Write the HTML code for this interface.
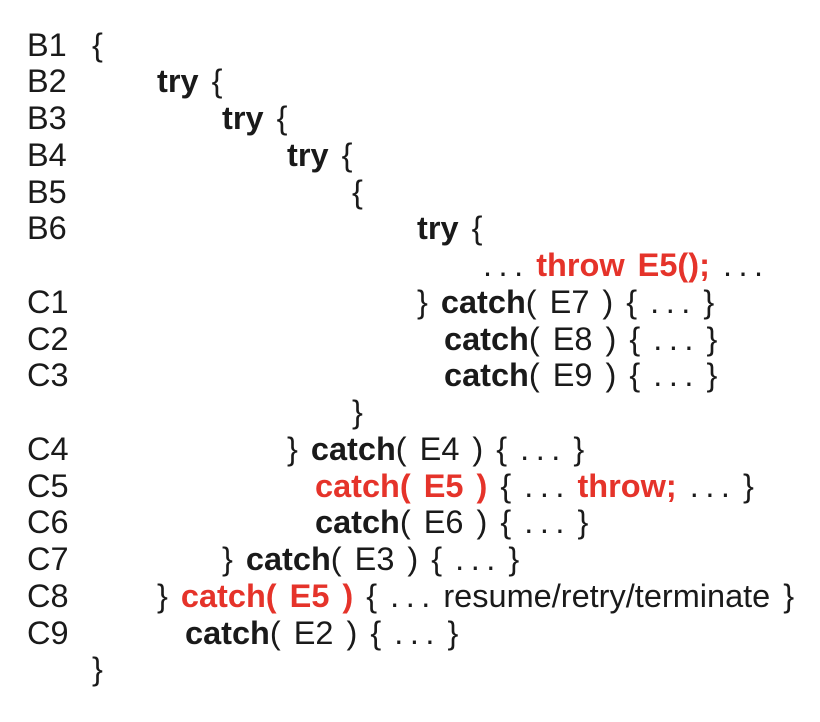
<!DOCTYPE html>
<html><head><meta charset="utf-8"><style>
html,body{margin:0;padding:0;background:#fff;}
svg{display:block}
text{font-family:"Liberation Sans",Arial,sans-serif;font-size:32.5px;fill:#1a1a1a;white-space:pre;word-spacing:4px}
.b{font-weight:bold}
.r{fill:#e5332a;font-weight:bold}
.d{word-spacing:-2.5px}
</style></head><body>
<svg width="820" height="722" viewBox="0 0 820 722" xmlns="http://www.w3.org/2000/svg">
<text x="27" y="56">B1</text><text x="92" y="56">{</text>
<text x="27" y="92">B2</text><text x="157" y="92"><tspan class="b">try</tspan> {</text>
<text x="27" y="129">B3</text><text x="222" y="129"><tspan class="b">try</tspan> {</text>
<text x="27" y="166">B4</text><text x="287" y="166"><tspan class="b">try</tspan> {</text>
<text x="27" y="203">B5</text><text x="352" y="203">{</text>
<text x="27" y="239">B6</text><text x="417" y="239"><tspan class="b">try</tspan> {</text>
<text x="483" y="276"><tspan class="d">. . .</tspan> <tspan class="r">throw E5();</tspan> <tspan class="d">. . .</tspan></text>
<text x="27" y="313">C1</text><text x="417" y="313">} <tspan class="b">catch</tspan>( E7 ) { <tspan class="d">. . .</tspan> }</text>
<text x="27" y="350">C2</text><text x="444" y="350"><tspan class="b">catch</tspan>( E8 ) { <tspan class="d">. . .</tspan> }</text>
<text x="27" y="386">C3</text><text x="444" y="386"><tspan class="b">catch</tspan>( E9 ) { <tspan class="d">. . .</tspan> }</text>
<text x="352" y="423">}</text>
<text x="27" y="460">C4</text><text x="287" y="460">} <tspan class="b">catch</tspan>( E4 ) { <tspan class="d">. . .</tspan> }</text>
<text x="27" y="497">C5</text><text x="315" y="497"><tspan class="r">catch( E5 )</tspan> { <tspan class="d">. . .</tspan> <tspan class="r">throw;</tspan> <tspan class="d">. . .</tspan> }</text>
<text x="27" y="533">C6</text><text x="315" y="533"><tspan class="b">catch</tspan>( E6 ) { <tspan class="d">. . .</tspan> }</text>
<text x="27" y="570">C7</text><text x="222" y="570">} <tspan class="b">catch</tspan>( E3 ) { <tspan class="d">. . .</tspan> }</text>
<text x="27" y="607">C8</text><text x="157" y="607">} <tspan class="r">catch( E5 )</tspan> { <tspan class="d">. . .</tspan> resume/retry/terminate }</text>
<text x="27" y="644">C9</text><text x="185" y="644"><tspan class="b">catch</tspan>( E2 ) { <tspan class="d">. . .</tspan> }</text>
<text x="92" y="680">}</text>
</svg>
</body></html>
